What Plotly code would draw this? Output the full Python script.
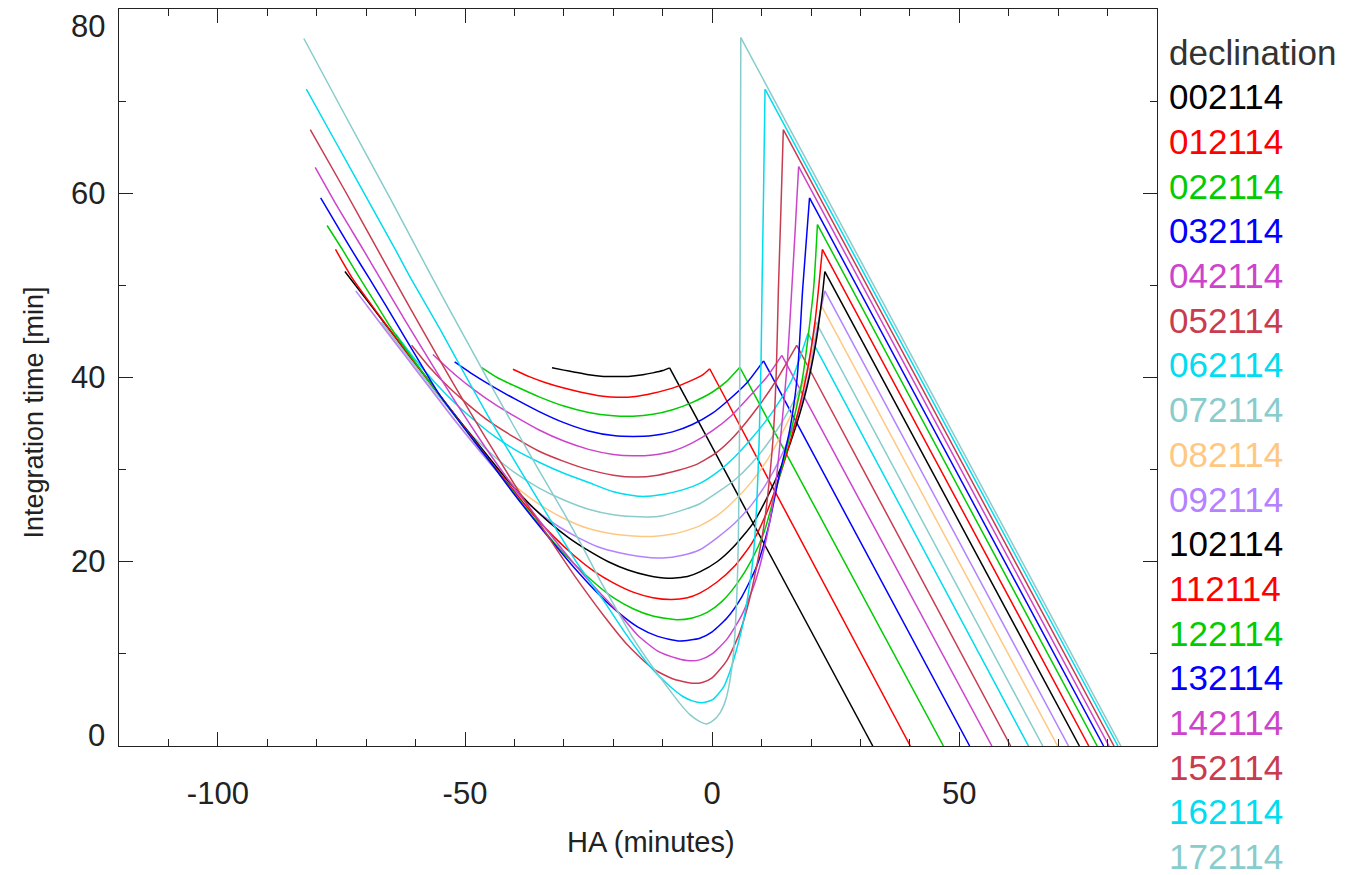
import plotly.graph_objects as go

# ---------------- data ----------------
labels = ["002114", "012114", "022114", "032114", "042114", "052114",
          "062114", "072114", "082114", "092114", "102114", "112114",
          "122114", "132114", "142114", "152114", "162114", "172114"]
colors = ["#000000", "#ff0000", "#00cc00", "#0000ff", "#cc44cc", "#c83c50",
          "#00dcf0", "#88cccc", "#ffc882", "#b482ff", "#000000", "#ff0000",
          "#00cc00", "#0000ff", "#cc44cc", "#c83c50", "#00dcf0", "#88cccc"]

# HA where each curve reaches zero integration time
ha_zero = [32.5, 40.1, 46.8, 52.1, 56.6, 60.4, 64.0, 66.9, 69.9, 72.1,
           74.3, 76.2, 77.9, 79.2, 80.3, 81.3, 82.1, 82.7]

ha_002114 = [-32.4, -30, -28, -25, -22, -20, -17, -14, -12, -10, -8.6]
t_002114 = [41.05, 40.8, 40.6, 40.3, 40.12, 40.1, 40.12, 40.3, 40.5, 40.75, 41.05]

ha_012114 = [-40.3, -37, -33.5, -30, -26.5, -22.5, -19, -15.5, -12, -8, -4.5, -2, -0.5]
t_012114 = [40.9, 40.1, 39.4, 38.85, 38.4, 38.0, 37.85, 37.95, 38.3, 38.85, 39.6, 40.25, 40.95]

ha_022114 = [-46.7, -43.5, -40, -35, -30, -25, -20, -16, -12, -8, -4, 0, 3, 5.6]
t_022114 = [41.1, 40.0, 39.1, 37.9, 36.9, 36.2, 35.85, 35.8, 36.0, 36.5, 37.3, 38.4, 39.6, 41.1]

ha_032114 = [-52.1, -48, -44, -40, -35, -30, -25, -20, -16, -12, -8, -4, 0, 3, 7, 10.4]
t_032114 = [41.7, 40.2, 38.9, 37.7, 36.3, 35.1, 34.2, 33.7, 33.6, 33.7, 34.1, 34.9, 36.1, 37.4, 39.4, 41.8]

ha_042114 = [-56.5, -52, -48, -44, -40, -35, -30, -25, -20, -16, -12, -8, -4, 0, 4, 8, 11, 14.1]
t_042114 = [42.5, 40.3, 38.6, 37.1, 35.8, 34.3, 33.1, 32.2, 31.65, 31.5, 31.6, 32.0, 32.9, 34.2, 35.9, 38.2, 40.0, 42.4]

ha_052114 = [-60.8, -57, -53, -49, -45, -40, -35, -30, -25, -20, -15.5, -11, -7, -3, 1, 4.6, 9, 13, 17.1]
t_052114 = [43.5, 41.0, 38.8, 36.9, 35.2, 33.5, 32.0, 30.9, 30.0, 29.4, 29.2, 29.4, 29.9, 30.6, 31.9, 33.7, 36.6, 39.7, 43.5]

ha_062114 = [-64.0, -60, -56, -52, -48, -44, -40, -35, -30, -25, -20, -14.6, -10, -6, -2.5, 1, 4.6, 8, 12, 16, 19.4]
t_062114 = [44.7, 41.9, 39.4, 37.2, 35.3, 33.6, 32.2, 30.8, 29.6, 28.6, 27.6, 27.1, 27.3, 27.8, 28.5, 29.7, 31.4, 33.4, 36.1, 39.6, 44.8]

ha_072114 = [-66.9, -62, -57, -52, -48, -44, -40, -35, -30, -25, -20, -16, -13, -10, -6, -2.5, 1, 4.6, 8, 12, 16, 19, 21.0]
t_072114 = [46.0, 42.6, 39.1, 35.8, 33.4, 31.4, 29.7, 28.0, 26.7, 25.7, 25.1, 24.9, 24.85, 25.0, 25.6, 26.3, 27.5, 28.9, 30.7, 33.4, 36.9, 40.4, 46.0]

ha_082114 = [-69.9, -65, -60, -55, -50, -46, -42, -38, -34, -30, -25, -20, -16, -12, -8, -4, -2.5, 1, 4.6, 8, 12, 16, 19.5, 22.1]
t_082114 = [47.8, 44.4, 40.9, 37.4, 34.0, 31.5, 29.3, 27.4, 25.9, 24.7, 23.6, 23.0, 22.8, 22.75, 23.0, 23.6, 23.9, 25.0, 26.7, 28.7, 31.8, 36.0, 41.0, 47.8]

ha_092114 = [-72.1, -67, -62, -57, -52, -47, -43, -39, -35, -31, -27, -23, -19, -15, -10, -6, -2.5, 1, 4.6, 8, 11, 14, 17, 19.5, 21.8, 22.8]
t_092114 = [49.4, 45.8, 42.3, 38.8, 35.3, 32.0, 29.5, 27.2, 25.3, 23.8, 22.6, 21.6, 21.0, 20.6, 20.4, 20.7, 21.3, 22.6, 24.2, 26.2, 28.5, 31.5, 35.5, 40.0, 46.9, 49.4]

ha_102114 = [-74.3, -69, -64, -59, -54, -49, -45, -41, -37, -33, -29, -25, -21, -17, -13, -9, -5, -2.5, 1, 4.3, 8.3, 11.7, 14.5, 17.0, 19.2, 21.0, 22.2, 22.8]
t_102114 = [51.5, 47.8, 44.3, 40.8, 37.3, 33.9, 31.2, 28.6, 26.3, 24.3, 22.6, 21.2, 20.0, 19.1, 18.5, 18.2, 18.4, 18.9, 20.0, 21.6, 24.2, 27.6, 31.0, 34.8, 39.0, 43.8, 48.5, 51.5]

ha_112114 = [-76.2, -74.5, -72.7, -68, -63, -58, -53, -48, -44, -40, -36, -32, -28, -24, -20, -16, -12, -8.2, -5, -2.5, 1, 4.5, 8, 11, 13.8, 16.3, 19, 20.8, 21.5, 22.3]
t_112114 = [53.9, 52.3, 50.7, 47.2, 43.6, 40.1, 36.6, 33.1, 30.3, 27.6, 25.0, 22.7, 20.7, 19.0, 17.7, 16.7, 16.1, 15.9, 16.1, 16.6, 17.8, 19.5, 22.0, 25.3, 29.5, 34.0, 40.0, 46.0, 49.5, 53.9]

ha_122114 = [-77.9, -74.7, -71.2, -68, -65, -60, -55, -50, -45, -40, -36, -32, -28, -24, -20, -16, -12, -7.2, -4, -1, 2, 5, 8, 10.5, 13.5, 16, 18.3, 20.5, 21.3]
t_122114 = [56.5, 53.8, 50.7, 48.0, 45.4, 41.6, 38.0, 34.4, 30.9, 27.4, 24.7, 22.1, 19.8, 17.8, 16.1, 14.9, 14.1, 13.7, 13.9, 14.5, 15.7, 17.6, 20.2, 23.2, 29.0, 34.3, 40.0, 49.5, 56.6]

ha_132114 = [-79.2, -76, -73, -69.3, -66, -62, -58, -55, -50, -45, -40, -35, -31, -27, -23, -19, -15, -11, -6.5, -2.5, 0, 3, 6, 9, 11.5, 13.5, 15.7, 17.2, 18.3, 19.7]
t_132114 = [59.5, 56.6, 53.9, 50.7, 47.8, 44.2, 40.6, 38.0, 34.4, 30.9, 27.3, 23.9, 21.3, 18.8, 16.5, 14.5, 12.9, 11.9, 11.4, 11.7, 12.4, 13.9, 16.2, 19.5, 24.0, 29.2, 34.3, 40.0, 49.5, 59.5]

ha_142114 = [-80.3, -76, -70.5, -67.1, -62, -57, -52, -47, -43, -39, -35, -31, -27, -23, -19, -15, -11, -7, -4.6, -2.5, 0, 3, 6, 8.7, 11, 12.8, 14.0, 15.2, 16.1, 16.8, 17.5]
t_142114 = [62.8, 58.7, 53.8, 50.7, 46.1, 41.7, 37.4, 33.3, 30.2, 27.3, 24.5, 21.8, 19.2, 16.8, 14.5, 12.0, 10.3, 9.5, 9.25, 9.35, 10.0, 11.6, 14.2, 17.8, 22.6, 28.2, 34.3, 41.5, 49.5, 56.0, 62.9]

ha_152114 = [-81.3, -74, -67.6, -64.4, -58, -52, -46, -40, -34, -28, -22, -17, -12, -8, -5, -3.5, -2, 0, 3, 5.5, 7.5, 9, 10.5, 11.6, 12.4, 13.0, 13.4, 13.9, 14.4]
t_152114 = [66.9, 60.0, 53.8, 50.7, 44.6, 39.0, 33.6, 28.4, 23.4, 18.6, 14.2, 10.9, 8.4, 7.3, 6.9, 6.8, 6.9, 7.4, 9.3, 12.2, 15.8, 19.5, 24.0, 29.0, 34.0, 41.0, 49.5, 58.0, 66.9]

ha_162114 = [-82.1, -76, -70, -64, -60.9, -55, -50, -45, -38.9, -33, -27, -22, -17.5, -12.6, -9, -6, -4, -2.1, 0, 2.2, 3.6, 4.9, 6.2, 7.3, 8.3, 9.0, 9.5, 9.9, 10.1, 10.4, 10.7]
t_162114 = [71.3, 65.4, 59.6, 53.8, 50.7, 45.2, 40.3, 35.5, 30.0, 24.8, 19.6, 15.8, 12.2, 8.65, 6.7, 5.4, 4.9, 4.7, 5.0, 6.3, 8.1, 10.4, 13.2, 16.5, 20.5, 26.0, 33.0, 42.0, 50.0, 60.0, 71.3]

ha_172114 = [-82.6, -75, -65, -56.5, -50, -45, -40, -35, -30, -26, -22.7, -19, -16, -12.6, -9.2, -6.5, -4.5, -2.5, -1.1, 0.3, 1.6, 2.5, 3.25, 4.25, 4.9, 5.3, 5.55, 5.65, 5.8]
t_172114 = [76.8, 69.2, 59.3, 50.7, 44.3, 39.4, 34.6, 29.9, 25.3, 21.4, 18.0, 14.5, 11.7, 9.0, 6.5, 4.6, 3.4, 2.65, 2.4, 2.8, 3.6, 4.6, 6.1, 9.7, 15.1, 22.4, 35.0, 50.0, 76.9]

x_ticks = [-100, -50, 0, 50]
y_ticks = [0, 20, 40, 60, 80]

curves_ha = [ha_002114, ha_012114, ha_022114, ha_032114, ha_042114, ha_052114,
             ha_062114, ha_072114, ha_082114, ha_092114, ha_102114, ha_112114,
             ha_122114, ha_132114, ha_142114, ha_152114, ha_162114, ha_172114]
curves_t = [t_002114, t_012114, t_022114, t_032114, t_042114, t_052114,
            t_062114, t_072114, t_082114, t_092114, t_102114, t_112114,
            t_122114, t_132114, t_142114, t_152114, t_162114, t_172114]

# ---------------- figure ----------------
fig = go.Figure()
LW = 1.5
for ha, t, xz, col in zip(curves_ha, curves_t, ha_zero, colors):
    fig.add_trace(go.Scatter(x=ha, y=t, mode="lines",
                             line=dict(color=col, width=LW, shape="spline", smoothing=0.6),
                             hoverinfo="skip", showlegend=False))
    fig.add_trace(go.Scatter(x=[ha[-1], xz], y=[t[-1], 0], mode="lines",
                             line=dict(color=col, width=LW),
                             hoverinfo="skip", showlegend=False))

TXT = "#222222"
FONT = "Liberation Sans, Arial, Helvetica, sans-serif"

# the page adds an 8 px body margin, so the figure is laid out 8 px up/left
fig.update_layout(
    width=1350, height=875,
    margin=dict(l=111, r=201, t=1, b=137),
    paper_bgcolor="white", plot_bgcolor="white",
    font=dict(family=FONT, color=TXT, size=31),
    showlegend=False,
)
fig.update_xaxes(range=[-120, 90], tickvals=x_ticks, ticktext=[str(v) for v in x_ticks],
                 ticks="inside", ticklen=14, tickwidth=1, tickcolor="#222",
                 minor=dict(dtick=10, ticks="inside", ticklen=7, tickcolor="#222", tickwidth=1),
                 showline=True, linecolor="#222", linewidth=1, mirror="ticks",
                 showgrid=False, zeroline=False,
                 tickfont=dict(size=31, color=TXT, family=FONT), ticklabelstandoff=20)
fig.update_yaxes(range=[0, 80], tickvals=y_ticks, showticklabels=False,
                 ticks="inside", ticklen=14, tickwidth=1, tickcolor="#222",
                 minor=dict(dtick=10, ticks="inside", ticklen=7, tickcolor="#222", tickwidth=1),
                 showline=True, linecolor="#222", linewidth=1, mirror="ticks",
                 showgrid=False, zeroline=False)

# y tick labels (endpoint labels nudged inside the axis, as in the reference)
for v in y_ticks:
    shift = 0
    if v == y_ticks[0]:
        shift = 11
    elif v == y_ticks[-1]:
        shift = -17
    fig.add_annotation(xref="paper", yref="y", x=0, y=v, text=str(v), showarrow=False,
                       xanchor="right", yanchor="middle", xshift=-12, yshift=shift,
                       font=dict(size=31, color=TXT, family=FONT))

# axis titles
fig.add_annotation(xref="paper", yref="paper", x=0.5, y=0, yshift=-96, xshift=13,
                   text="HA (minutes)", showarrow=False, xanchor="center", yanchor="middle",
                   font=dict(size=29, color=TXT, family=FONT))
fig.add_annotation(xref="paper", yref="paper", x=0, xshift=-86, y=0.5, yshift=-35,
                   text="Integration time [min]", textangle=-90, showarrow=False,
                   xanchor="center", yanchor="middle",
                   font=dict(size=27, color=TXT, family=FONT))

# legend as text
legend_top = 52
legend_step = 44.7
fig.add_annotation(xref="paper", yref="paper", x=1, xshift=10, y=1, yshift=9 - legend_top,
                   text="declination", showarrow=False, xanchor="left", yanchor="middle",
                   font=dict(size=35, color="#333333", family=FONT))
for i, (lab, col) in enumerate(zip(labels, colors)):
    fig.add_annotation(xref="paper", yref="paper", x=1, xshift=10, y=1,
                       yshift=9 - (legend_top + legend_step * (i + 1)),
                       text=lab, showarrow=False, xanchor="left", yanchor="middle",
                       font=dict(size=35, color=col, family=FONT))

fig.write_html("out.html")
